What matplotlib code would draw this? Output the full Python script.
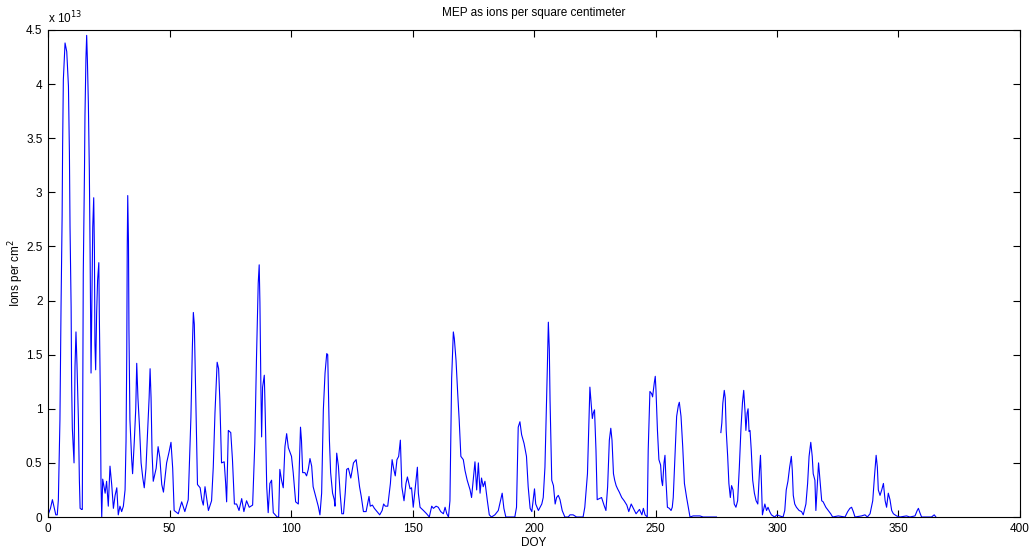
import numpy as np
import matplotlib
matplotlib.use("Agg")
import matplotlib.pyplot as plt
from matplotlib.ticker import FuncFormatter

# day of year and MEP flux (units of 1e13 ions per cm^2)
doy = [
    0, 1.0, 1.8, 2.6, 3.2, 3.8, 4.25, 4.9, 5.35, 5.8, 6.0, 6.3, 7.0, 7.7, 8.4,
    8.8, 9.05, 9.5, 9.7, 10.0, 10.3, 10.7, 11.1, 11.5, 11.9, 12.5, 12.9, 13.2,
    13.8, 14.1, 14.3, 14.5, 15.0, 15.2, 15.6, 15.9, 16.2, 16.6, 17.0, 17.3,
    17.7, 18.4, 18.8, 19.1, 19.3, 19.6, 20.0, 20.4, 20.9, 21.1, 21.5, 21.8,
    22.1, 22.5, 23.5, 24.1, 24.8, 25.5, 26.2, 26.9, 27.6, 28.3, 28.9, 29.6,
    30.3, 31.0, 31.7, 32.1, 32.4, 32.6, 32.8, 33.1, 33.3, 33.7, 34.4, 34.8,
    35.5, 36.1, 36.5, 37.0, 37.6, 38.3, 39.0, 39.6, 40.3, 41.0, 41.6, 42.0,
    42.4, 42.8, 43.3, 44.5, 45.3, 46.0, 46.8, 47.5, 48.8, 49.8, 50.6, 51.3,
    51.9, 53.6, 55.0, 56.3, 57.7, 58.8, 59.4, 59.8, 60.2, 60.8, 61.5, 62.6,
    63.3, 63.9, 64.6, 65.3, 66.0, 67.3, 68.0, 68.7, 69.6, 70.2, 70.7, 71.4,
    72.5, 73.1, 73.5, 74.2, 75.2, 75.9, 76.7, 77.6, 78.6, 79.7, 80.6, 81.7,
    82.8, 84.2, 85.1, 85.8, 86.5, 86.9, 87.2, 87.6, 87.9, 88.3, 89.0, 89.4,
    90.0, 90.6, 91.3, 92.0, 92.7, 94.3, 94.9, 95.4, 96.1, 96.8, 97.5, 98.2,
    98.9, 100.2, 100.9, 101.9, 103.0, 103.4, 103.9, 104.3, 104.8, 105.7,
    106.4, 107.1, 107.8, 108.5, 109.1, 109.8, 110.5, 111.2, 111.9, 112.6,
    113.3, 114.0, 114.7, 115.1, 115.3, 115.8, 116.3, 117.1, 117.8, 118.1,
    118.8, 119.5, 120.2, 120.9, 121.6, 122.3, 122.9, 123.6, 124.6, 125.7,
    126.8, 127.5, 128.2, 128.9, 129.8, 130.9, 131.5, 132.1, 132.6, 133.5,
    134.3, 135.4, 136.5, 137.5, 138.1, 138.8, 139.8, 140.9, 141.6, 142.3,
    142.9, 143.6, 144.3, 145.0, 145.6, 146.5, 147.3, 147.9, 149.0, 149.6,
    150.3, 151.3, 152.0, 152.4, 153.1, 154.5, 155.8, 156.9, 157.9, 158.6,
    159.7, 160.6, 161.6, 162.7, 163.4, 164.1, 164.8, 165.4, 166.1, 166.8,
    167.2, 167.9, 168.6, 169.2, 169.9, 170.9, 171.6, 172.5, 173.7, 174.3,
    175.0, 175.7, 176.4, 177.1, 177.8, 178.4, 179.1, 179.8, 180.8, 181.6,
    182.5, 183.9, 185.3, 186.2, 186.9, 187.6, 188.4, 190.1, 192.1, 192.8,
    193.5, 194.2, 194.9, 195.9, 196.9, 197.6, 198.4, 199.1, 199.8, 200.2,
    200.7, 201.8, 203.2, 203.8, 204.5, 204.9, 205.5, 205.9, 206.3, 206.6,
    207.3, 208.0, 208.7, 209.3, 210.0, 210.7, 211.6, 212.7, 214.1, 214.8,
    216.1, 217.5, 220.2, 220.9, 222.0, 222.6, 223.0, 223.4, 224.0, 224.4,
    224.9, 225.5, 226.0, 226.9, 227.8, 228.8, 229.6, 230.3, 231.0, 231.6,
    232.1, 232.7, 233.2, 233.8, 234.4, 235.1, 236.1, 237.1, 238.2, 239.0,
    240.0, 240.9, 242.0, 243.4, 244.4, 245.0, 245.7, 246.6, 247.0, 247.7,
    248.4, 248.8, 249.5, 249.9, 250.2, 250.8, 251.4, 252.1, 252.5, 252.9,
    253.5, 253.9, 254.3, 254.9, 255.7, 256.4, 256.9, 257.3, 258.0, 258.7,
    259.4, 259.8, 260.5, 261.2, 261.9, 262.8, 263.5, 264.2, 265.5, 266.9,
    268.3, 269.6, 272.3, 275.1, 276.0, 276.9, 277.3, 277.7, 278.3, 278.7,
    279.1, 279.7, 280.2, 280.8, 281.3, 281.9, 282.4, 283.1, 283.8, 284.5,
    285.2, 285.8, 286.3, 286.8, 287.2, 287.7, 288.1, 288.5, 288.9, 289.4,
    290.0, 290.7, 291.4, 292.1, 292.8, 293.2, 293.6, 294.0, 295.0, 295.7,
    296.3, 297.0, 297.7, 299.0, 300.0, 301.1, 302.5, 303.2, 303.8, 304.5,
    305.2, 305.9, 306.3, 306.7, 307.3, 308.0, 309.1, 310.1, 310.8, 311.9,
    312.6, 313.2, 313.9, 314.5, 314.9, 315.6, 316.0, 316.6, 317.1, 317.7,
    318.4, 319.0, 320.1, 321.1, 322.1, 322.9, 325.2, 328.0, 329.1, 330.0,
    330.7, 331.4, 332.1, 334.8, 336.2, 337.2, 338.3, 339.4, 340.1, 340.8,
    341.3, 341.7, 342.4, 343.1, 343.8, 344.5, 345.1, 345.8, 346.5, 347.2,
    347.9, 349.2, 350.6, 353.3, 354.7, 356.8, 357.7, 358.2, 358.8, 359.5,
    363.6, 364.7, 365.4,
]
ions = [
    0.02, 0.08, 0.16, 0.08, 0.02, 0.02, 0.16, 0.9, 1.94, 2.78, 3.42, 4.04, 4.38,
    4.3, 3.98, 3.36, 2.68, 1.94, 1.24, 0.82, 0.68, 0.5, 1.39, 1.71, 1.42, 0.9,
    0.34, 0.08, 0.07, 0.07, 1.08, 2.25, 3.2, 3.71, 4.24, 4.45, 4.22, 3.82, 3.2,
    2.47, 1.33, 2.68, 2.95, 2.44, 1.6, 1.36, 1.88, 2.19, 2.35, 1.88, 1.17, 0.31,
    0.0, 0.35, 0.22, 0.33, 0.1, 0.47, 0.3, 0.08, 0.2, 0.27, 0.02, 0.1, 0.05,
    0.1, 0.25, 0.7, 1.5, 2.5, 2.97, 2.55, 1.73, 0.9, 0.54, 0.4, 0.7, 1.0, 1.42,
    1.1, 0.85, 0.5, 0.36, 0.27, 0.45, 0.8, 1.1, 1.37, 1.1, 0.6, 0.33, 0.45,
    0.65, 0.55, 0.3, 0.23, 0.5, 0.6, 0.69, 0.45, 0.06, 0.03, 0.14, 0.05, 0.16,
    0.92, 1.57, 1.89, 1.78, 1.11, 0.3, 0.27, 0.16, 0.11, 0.28, 0.17, 0.06,
    0.15, 0.46, 0.96, 1.43, 1.37, 1.08, 0.5, 0.51, 0.31, 0.14, 0.8, 0.78, 0.53,
    0.12, 0.12, 0.06, 0.17, 0.05, 0.15, 0.09, 0.11, 0.68, 1.48, 2.16, 2.33,
    1.98, 1.2, 0.74, 1.2, 1.31, 0.94, 0.28, 0.04, 0.31, 0.34, 0.04, 0.0, 0.0,
    0.44, 0.34, 0.27, 0.65, 0.77, 0.64, 0.56, 0.41, 0.14, 0.12, 0.46, 0.83,
    0.71, 0.41, 0.41, 0.38, 0.44, 0.54, 0.47, 0.28, 0.22, 0.16, 0.1, 0.02,
    0.22, 0.99, 1.33, 1.51, 1.5, 1.26, 0.71, 0.41, 0.22, 0.16, 0.1, 0.59, 0.47,
    0.22, 0.03, 0.03, 0.22, 0.44, 0.45, 0.36, 0.5, 0.53, 0.41, 0.28, 0.19,
    0.05, 0.05, 0.12, 0.19, 0.1, 0.11, 0.08, 0.05, 0.02, 0.06, 0.12, 0.1, 0.1,
    0.31, 0.53, 0.44, 0.38, 0.53, 0.56, 0.71, 0.28, 0.15, 0.31, 0.37, 0.26,
    0.27, 0.09, 0.31, 0.46, 0.22, 0.09, 0.06, 0.03, 0.0, 0.1, 0.08, 0.1, 0.09,
    0.05, 0.03, 0.09, 0.03, 0.0, 0.15, 1.28, 1.71, 1.65, 1.45, 1.14, 0.9, 0.56,
    0.53, 0.43, 0.34, 0.25, 0.18, 0.34, 0.51, 0.25, 0.5, 0.22, 0.36, 0.28,
    0.33, 0.15, 0.02, 0.0, 0.02, 0.06, 0.15, 0.22, 0.08, 0.0, 0.0, 0.0, 0.09,
    0.83, 0.88, 0.76, 0.68, 0.56, 0.28, 0.08, 0.05, 0.18, 0.26, 0.12, 0.06,
    0.12, 0.18, 0.46, 0.83, 1.39, 1.8, 1.55, 1.08, 0.34, 0.29, 0.12, 0.18, 0.2,
    0.16, 0.06, 0.0, 0.0, 0.02, 0.02, 0.0, 0.0, 0.09, 0.4, 0.9, 1.2, 1.08,
    0.91, 0.96, 0.99, 0.62, 0.16, 0.17, 0.18, 0.11, 0.06, 0.28, 0.71, 0.82,
    0.71, 0.4, 0.34, 0.29, 0.26, 0.23, 0.18, 0.15, 0.11, 0.05, 0.12, 0.08,
    0.03, 0.07, 0.02, 0.08, 0.02, 0.0, 0.62, 1.16, 1.14, 1.11, 1.24, 1.3, 1.17,
    0.8, 0.53, 0.48, 0.34, 0.29, 0.5, 0.57, 0.34, 0.09, 0.08, 0.06, 0.09, 0.18,
    0.56, 0.93, 1.03, 1.06, 0.93, 0.65, 0.31, 0.18, 0.09, 0.0, 0.01, 0.01,
    0.01, 0.0, 0.0, 0.0, np.nan, 0.78, 0.87, 1.05, 1.17, 1.1, 0.8, 0.56, 0.31,
    0.18, 0.29, 0.25, 0.12, 0.09, 0.15, 0.46, 0.83, 1.06, 1.17, 0.99, 0.8,
    0.96, 1.0, 0.79, 0.8, 0.62, 0.34, 0.22, 0.15, 0.12, 0.43, 0.57, 0.31, 0.02,
    0.12, 0.06, 0.09, 0.05, 0.02, 0.0, 0.02, 0.01, 0.0, 0.06, 0.25, 0.33, 0.46,
    0.56, 0.43, 0.2, 0.12, 0.09, 0.06, 0.05, 0.02, 0.12, 0.31, 0.56, 0.69,
    0.56, 0.4, 0.34, 0.06, 0.31, 0.5, 0.34, 0.15, 0.14, 0.09, 0.06, 0.03, 0.0,
    0.01, 0.0, 0.05, 0.08, 0.09, 0.05, 0.0, 0.01, 0.02, 0.0, 0.03, 0.15, 0.37,
    0.57, 0.46, 0.25, 0.2, 0.25, 0.31, 0.15, 0.09, 0.22, 0.16, 0.06, 0.03,
    0.01, 0.0, 0.01, 0.0, 0.01, 0.06, 0.08, 0.04, 0.0, 0.0, 0.02, 0.0,
]

plt.rcParams["font.family"] = ["Liberation Sans", "DejaVu Sans"]
plt.rcParams["font.size"] = 8.5

fig = plt.figure(figsize=(10.33, 5.5), dpi=100)
ax = fig.add_axes([0.0465, 0.06, 0.9409, 0.8855])

ax.plot(doy, np.array(ions) * 1e13, color="#0000ff", linewidth=0.8)

ax.set_xlim(0, 400)
ax.set_ylim(0, 4.5e13)
ax.set_xticks(np.arange(0, 401, 50))
ax.set_yticks(np.arange(0, 4.51e13, 0.5e13))
ax.yaxis.set_major_formatter(FuncFormatter(lambda v, p: "%g" % (v / 1e13)))
ax.tick_params(direction="in", top=True, right=True, length=5, width=0.8,
               labelsize=8.5, pad=4)
for s in ax.spines.values():
    s.set_linewidth(0.8)

ax.text(0, 1.008, r"x 10$^{13}$", transform=ax.transAxes, fontsize=8.5,
        ha="left", va="bottom")
ax.set_title("MEP as ions per square centimeter", fontsize=8.5, pad=10)
ax.set_xlabel("DOY", fontsize=8.5, labelpad=2)
ax.set_ylabel("Ions per cm$^2$", fontsize=8.5)
ax.yaxis.set_label_coords(-0.023, 0.5)

fig.savefig("out.png", dpi=100)
